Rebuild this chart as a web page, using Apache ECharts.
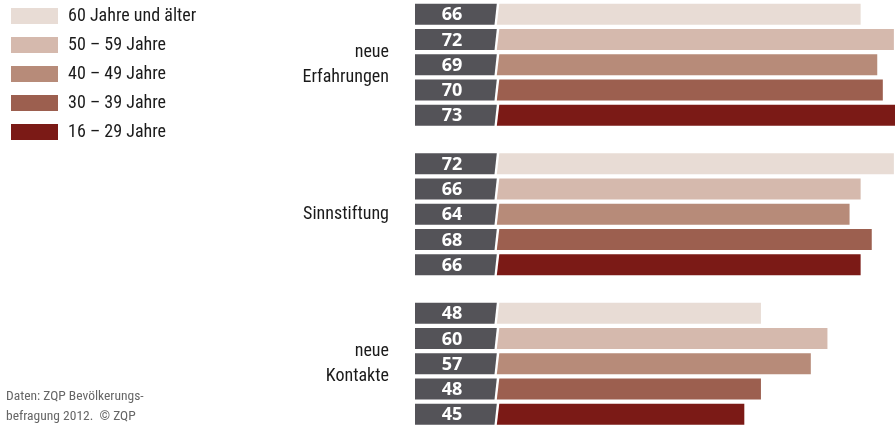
<!DOCTYPE html>
<html>
<head>
<meta charset="utf-8">
<script src="https://cdn.jsdelivr.net/npm/echarts@6/dist/echarts.min.js"></script>
<style>
  html, body { margin: 0; padding: 0; background: #fff; }
  #main { width: 895px; height: 426px; }
</style>
</head>
<body>
<div id="main"></div>
<script>
// Kategorien (von oben nach unten)
var categories = ['neue\nErfahrungen', 'Sinnstiftung', 'neue\nKontakte'];
// Altersgruppen, Reihenfolge wie in der Legende
var ageGroups = ['60 Jahre und älter', '50 – 59 Jahre', '40 – 49 Jahre', '30 – 39 Jahre', '16 – 29 Jahre'];
var ageColors = ['#e8dcd5', '#d5b9ad', '#b78b79', '#9c5f4f', '#7b1a16'];
// Werte je Altersgruppe (Prozent), je Kategorie
var val60plus = [66, 72, 48];
var val50_59 = [72, 66, 60];
var val40_49 = [69, 64, 57];
var val30_39 = [70, 68, 48];
var val16_29 = [73, 66, 45];
var allValues = [val60plus, val50_59, val40_49, val30_39, val16_29];

var fontCond = "'Liberation Sans Narrow', 'Roboto Condensed', 'Arial Narrow', 'Roboto', sans-serif";

function makeRender(idx) {
  return function (params, api) {
    var cat = api.value(0);
    var v = api.value(1);
    var c = api.coord([0, cat]);
    var x0 = c[0];
    var pitch = api.size([0, 1])[1] * 0.1692;
    var cy = c[1] + (idx - 2) * pitch;
    var h = 21;
    var top = cy - h / 2, bot = cy + h / 2;
    var xv = api.coord([v, cat])[0];
    return {
      type: 'group',
      children: [
        {
          type: 'polygon',
          shape: { points: [[x0 - 80, top], [x0 + 1.8, top], [x0 - 0.5, bot], [x0 - 80, bot]] },
          style: { fill: '#545358' }
        },
        {
          type: 'text',
          style: {
            text: String(v), x: x0 - 43, y: cy + 1,
            align: 'center', verticalAlign: 'middle',
            fill: '#fff', font: "bold 18px 'Open Sans', sans-serif"
          }
        },
        {
          type: 'polygon',
          shape: { points: [[x0 + 4.3, top], [xv, top], [xv, bot], [x0 + 1.8, bot]] },
          style: { fill: ageColors[idx] }
        }
      ]
    };
  };
}

var series = [];
for (var i = 0; i < ageGroups.length; i++) {
  var d = [];
  for (var j = 0; j < categories.length; j++) d.push([j, allValues[i][j]]);
  series.push({
    name: ageGroups[i],
    type: 'custom',
    renderItem: makeRender(i),
    itemStyle: { color: ageColors[i] },
    encode: { x: 1, y: 0 },
    data: d,
    clip: false
  });
}

var chart = echarts.init(document.getElementById('main'));
chart.setOption({
  backgroundColor: '#fff',
  animation: false,
  legend: {
    orient: 'vertical',
    left: 6, top: 2,
    icon: 'rect',
    itemWidth: 47, itemHeight: 16, itemGap: 11,
    data: ageGroups,
    selectedMode: false,
    textStyle: { fontSize: 18, color: '#1a1a1a', fontFamily: fontCond, padding: [0, 0, 0, 5] }
  },
  grid: { left: 495, right: 0, top: -10, height: 448.5, outerBoundsMode: 'none' },
  xAxis: {
    type: 'value', min: 0, max: 72.2,
    show: false
  },
  yAxis: {
    type: 'category',
    data: categories,
    inverse: true,
    axisLine: { show: false },
    axisTick: { show: false },
    axisLabel: {
      margin: 106,
      align: 'right',
      fontSize: 18,
      lineHeight: 25,
      color: '#1a1a1a',
      fontFamily: fontCond
    }
  },
  graphic: [
    {
      type: 'text', left: 6, top: 390,
      style: { text: 'Daten: ZQP Bevölkerungs-', fill: '#666', font: "13.5px " + fontCond }
    },
    {
      type: 'text', left: 6, top: 410,
      style: { text: 'befragung 2012.  © ZQP', fill: '#666', font: "13.5px " + fontCond }
    }
  ],
  series: series
});
</script>
</body>
</html>
